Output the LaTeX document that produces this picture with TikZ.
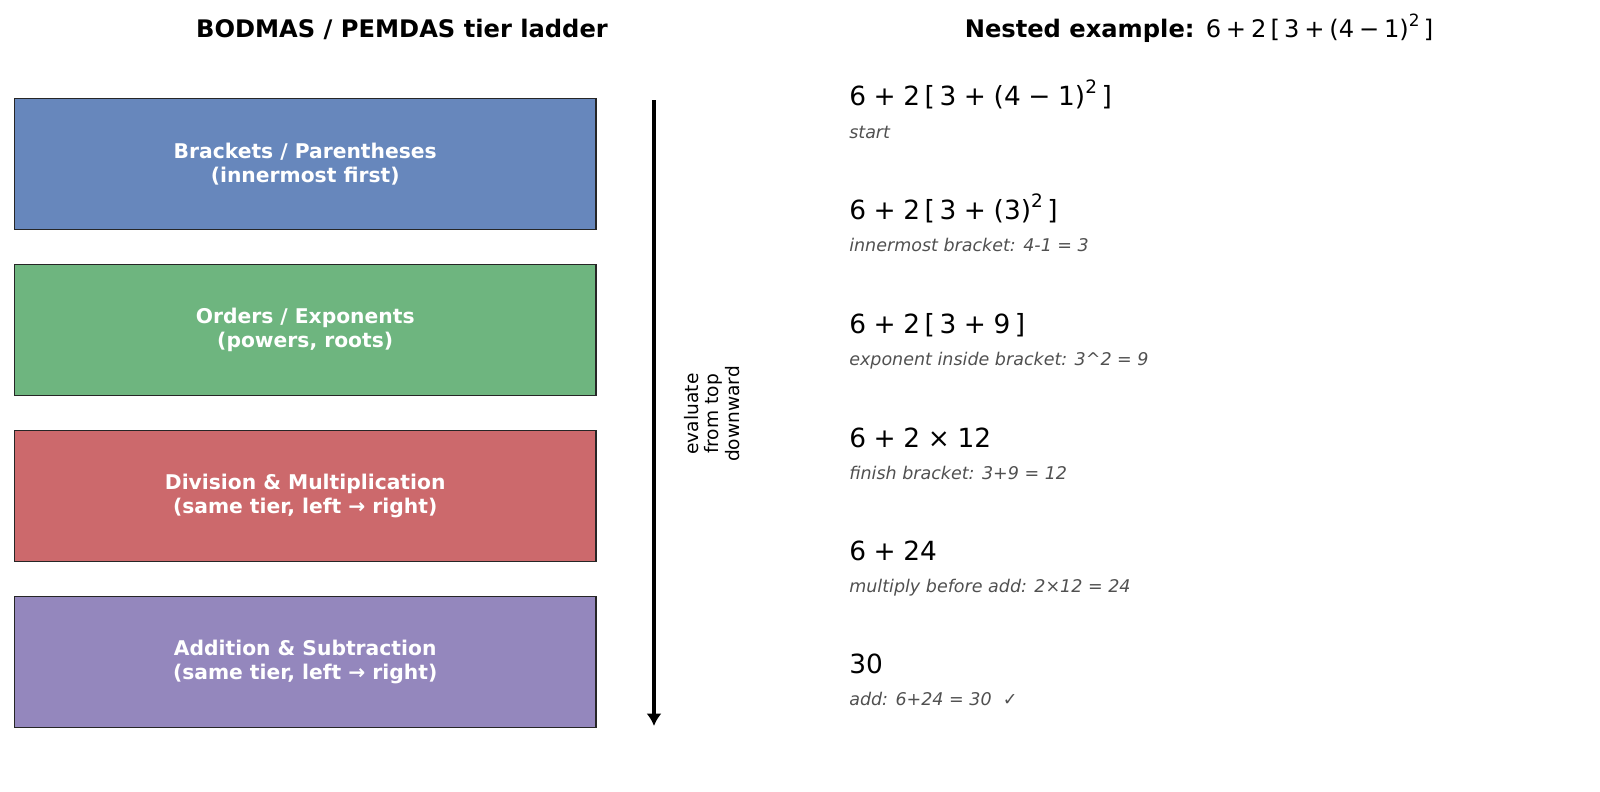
\documentclass[tikz,border=0pt]{standalone}
\usepackage{fontspec}
\setmainfont{DejaVu Sans}
\usetikzlibrary{arrows.meta}
\definecolor{cblue}{RGB}{103,135,188}
\definecolor{cgreen}{RGB}{110,181,127}
\definecolor{cred}{RGB}{204,105,108}
\definecolor{cpurple}{RGB}{148,135,189}
\definecolor{notegray}{RGB}{80,80,80}
\newcommand{\sqr}{\raisebox{0.42em}{\fontsize{0.7em}{1em}\selectfont 2}}
\newcommand{\tsp}{\hspace{0.17em}}
\newcommand{\bsp}{\hspace{0.29em}}
\newcommand{\PL}{\bsp+\bsp}
\newcommand{\MI}{\bsp−\bsp}
\newcommand{\tbsp}{\hspace{0.2em}}
\tikzset{
  tier/.style={draw=black!85, line width=0.9bp, minimum width=418.8bp, minimum height=94.3bp,
     inner sep=0pt, align=center, text=white, font=\fontsize{14.6bp}{17.6bp}\selectfont\bfseries},
  expr/.style={anchor=base west, inner sep=0pt, font=\fontsize{19bp}{22bp}\selectfont},
  note/.style={anchor=base west, inner sep=0pt, text=notegray, font=\fontsize{12.6bp}{15bp}\selectfont\itshape},
  ttl/.style={anchor=base, inner sep=0pt, font=\fontsize{17.4bp}{20bp}\selectfont},
  flow/.style={line width=2.2bp, -{Latex[length=9bp,width=11bp]}}
}
\begin{document}
\begin{tikzpicture}[x={(0.72bp,0)}, y={(0,-0.72bp)}]
\useasboundingbox (0,0) rectangle (1600,792);
% titles
\node[ttl] (t1) at (402,37) {\bfseries BODMAS / PEMDAS tier ladder};
\node[ttl] (t2) at (1199,37) {\bfseries Nested example: \mdseries 6\tbsp+\tbsp2\tsp[\tsp3\tbsp+\tbsp(4\tbsp−\tbsp1)\sqr\tsp]};
% tiers
\node[tier, fill=cblue] (b1) at (305.2,164) {Brackets / Parentheses\\(innermost first)};
\node[tier, fill=cgreen] (b2) at (305.2,330) {Orders / Exponents\\(powers, roots)};
\node[tier, fill=cred] (b3) at (305.2,496) {Division \& Multiplication\\(same tier, left → right)};
\node[tier, fill=cpurple] (b4) at (305.2,662) {Addition \& Subtraction\\(same tier, left → right)};
% arrow
\coordinate (atop) at (654,100);
\coordinate (abot) at (654,726);
\draw[flow] (atop) -- (abot);
\node[rotate=90, align=center, inner sep=0pt, font=\fontsize{13.4bp}{14.7bp}\selectfont] (lab) at (712,414) {evaluate\\from top\\downward};
% steps
\node[expr] (e1) at (849,105) {6\PL2\tsp[\tsp3\PL(4\MI1)\sqr\tsp]};
\node[note] (n1) at (849,138) {start};
\node[expr] (e2) at (849,219) {6\PL2\tsp[\tsp3\PL(3)\sqr\tsp]};
\node[note] (n2) at (849,251.5) {innermost bracket: 4-1 = 3};
\node[expr] (e3) at (849,333) {6\PL2\tsp[\tsp3\PL9\tsp]};
\node[note] (n3) at (849,365.5) {exponent inside bracket: 3\^{}2 = 9};
\node[expr] (e4) at (849,447) {6\PL2\bsp×\bsp12};
\node[note] (n4) at (849,479) {finish bracket: 3+9 = 12};
\node[expr] (e5) at (849,560) {6\PL24};
\node[note] (n5) at (849,592.5) {multiply before add: 2×12 = 24};
\node[expr] (e6) at (849,673) {30};
\node[note] (n6) at (849,705.5) {add: 6+24 = 30 \ ✓};
\end{tikzpicture}
\end{document}
